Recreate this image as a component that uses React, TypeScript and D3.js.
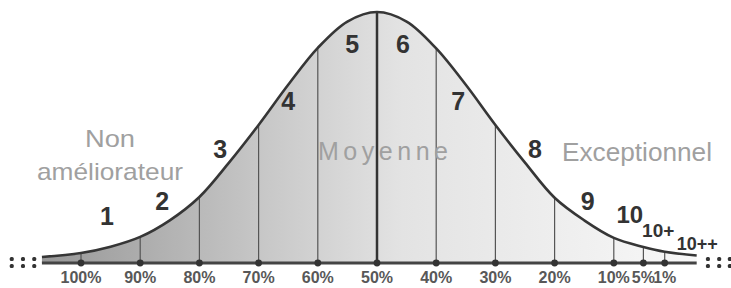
import React from "react";
import * as d3 from "d3";

// curve: position in "deciles" from the centre, height as share of the peak
const curveX = [-5.66, -5, -4.5, -4, -3.5, -3, -2.5, -2, -1.5, -1, -0.5, 0, 0.5, 1, 1.5, 2, 2.5, 3, 3.5, 4, 4.5, 4.86, 5.4];
const curveY = [0.024, 0.04, 0.065, 0.104, 0.17, 0.263, 0.4, 0.55, 0.71, 0.857, 0.962, 1, 0.962, 0.855, 0.71, 0.55, 0.4, 0.26, 0.17, 0.1, 0.064, 0.045, 0.03];

const tickLabels = ["100%", "90%", "80%", "70%", "60%", "50%", "40%", "30%", "20%", "10%", "5%", "1%"];
const tickX = [-5, -4, -3, -2, -1, 0, 1, 2, 3, 4, 4.5, 4.86];

const grades = ["1", "2", "3", "4", "5", "6", "7", "8", "9", "10", "10+", "10++"];
const gradeX = [-4.56, -3.63, -2.65, -1.5, -0.42, 0.44, 1.37, 2.67, 3.56, 4.27, 4.75, 5.41];
const gradeY = [0.151, 0.211, 0.418, 0.61, 0.837, 0.837, 0.61, 0.418, 0.211, 0.16, 0.104, 0.052];
const gradeSize = [25, 25, 25, 25, 25, 25, 25, 25, 25, 24, 19, 18];

// the ":::" continuation marks at both ends
const dotsX = [-6.17, -5.98, -5.79, 5.59, 5.78, 5.96];

const W = 731, H = 288;

export default function App() {
  const x = d3.scaleLinear().domain([-5, 5]).range([81, 673]);
  const y = d3.scaleLinear().domain([0, 1]).range([263, 12]);
  const pts: [number, number][] = curveX.map((u, i) => [u, curveY[i]]);

  const line = d3.line<[number, number]>()
    .x(d => x(d[0])).y(d => y(d[1]))
    .curve(d3.curveCatmullRom.alpha(0.5));
  const area = d3.area<[number, number]>()
    .x(d => x(d[0])).y0(y(0)).y1(d => y(d[1]))
    .curve(d3.curveCatmullRom.alpha(0.5));

  // height of the curve at u, linear between read points (only for the vertical dividers)
  const at = (u: number) => {
    const i = d3.bisectLeft(curveX, u);
    if (curveX[i] === u) return curveY[i];
    const t = (u - curveX[i - 1]) / (curveX[i] - curveX[i - 1]);
    return curveY[i - 1] + t * (curveY[i] - curveY[i - 1]);
  };

  const font = "'Liberation Sans', Arial, sans-serif";
  const x0 = x(curveX[0]), x1 = x(curveX[curveX.length - 1]);

  return (
    <svg width={W} height={H} style={{ position: "absolute", left: 0, top: 0, background: "#fff" }}>
      <defs>
        <linearGradient id="shade" x1={x0} x2={x1} y1="0" y2="0" gradientUnits="userSpaceOnUse">
          <stop offset="0" stopColor="#979797" />
          <stop offset="0.35" stopColor="#c9c9c9" />
          <stop offset="0.55" stopColor="#e3e3e3" />
          <stop offset="1" stopColor="#f8f8f8" />
        </linearGradient>
      </defs>
      <path d={area(pts) || ""} fill="url(#shade)" />
      {tickX.map((u, i) => (
        <line key={"v" + i} x1={x(u)} x2={x(u)} y1={y(0)} y2={y(at(u))}
          stroke={u === 0 ? "#333" : "#555"} strokeWidth={u === 0 ? 2.5 : 1.2} />
      ))}
      <path d={line(pts) || ""} fill="none" stroke="#363636" strokeWidth={2.6} />
      <line x1={x0} x2={x1} y1={y(0)} y2={y(0)} stroke="#444" strokeWidth={3} />
      {tickX.map((u, i) => (
        <circle key={"d" + i} cx={x(u)} cy={y(0)} r={3.4} fill="#333" />
      ))}
      {dotsX.map((u, i) => (
        <g key={"c" + i} fill="#333">
          <rect x={x(u) - 2} y={y(0) - 6} width={4} height={4} rx={1.5} />
          <rect x={x(u) - 2} y={y(0) + 1} width={4} height={4} rx={1.5} />
        </g>
      ))}
      {tickLabels.map((t, i) => (
        <text key={"t" + i} x={x(tickX[i])} y={283} textAnchor="middle"
          fontFamily={font} fontWeight="bold" fontSize={16} fill="#585858">{t}</text>
      ))}
      {grades.map((g, i) => (
        <text key={"g" + i} x={x(gradeX[i])} y={y(gradeY[i])} textAnchor="middle"
          fontFamily={font} fontWeight="bold" fontSize={gradeSize[i]} fill="#333">{g}</text>
      ))}
      <text x={110} y={147} textAnchor="middle" fontFamily={font} fontSize={24} fill="#a0a0a0"
        textLength={50} lengthAdjust="spacingAndGlyphs">Non</text>
      <text x={110} y={180} textAnchor="middle" fontFamily={font} fontSize={24} fill="#a0a0a0"
        textLength={146} lengthAdjust="spacingAndGlyphs">améliorateur</text>
      <text x={318} y={160} fontFamily={font} fontSize={25} fill="#a0a0a0"
        textLength={130} lengthAdjust="spacing">Moyenne</text>
      <text x={562} y={161} fontFamily={font} fontSize={25} fill="#a0a0a0"
        textLength={150} lengthAdjust="spacingAndGlyphs">Exceptionnel</text>
    </svg>
  );
}
